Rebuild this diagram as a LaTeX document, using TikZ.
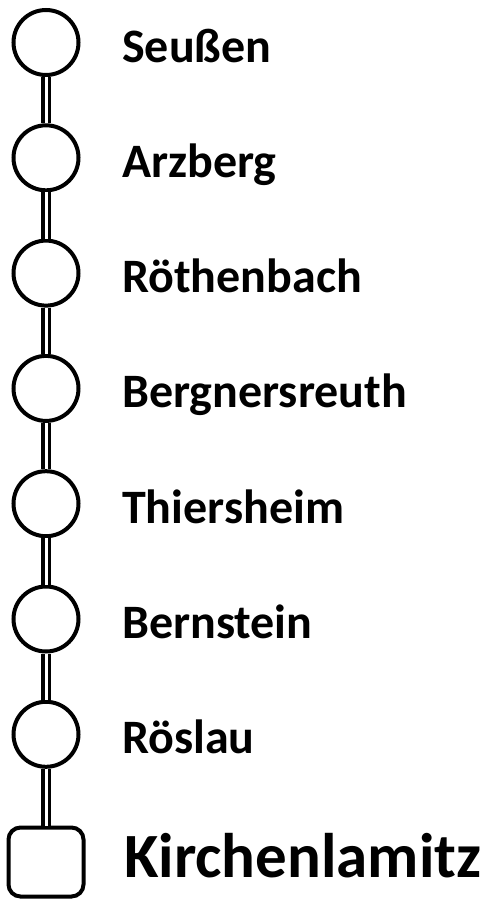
\documentclass[tikz,border=0pt]{standalone}
\usepackage{fontspec}
\setmainfont{Carlito}
\begin{document}
\begin{tikzpicture}[x=1pt,y=-1pt,
  stop/.style={draw, line width=4pt, circle, minimum size=65pt, inner sep=0pt},
  endstop/.style={draw, line width=4pt, rectangle, rounded corners=12pt, minimum width=75pt, minimum height=69pt, inner sep=0pt},
  lbl/.style={anchor=base west, inner sep=0pt, font=\bfseries\fontsize{48}{52}\selectfont},
  biglbl/.style={anchor=base west, inner sep=0pt, font=\bfseries\fontsize{63}{66}\selectfont},
  track/.style={draw, line width=3.5pt, double=white, double distance=3pt}]
\useasboundingbox (0,0) rectangle (488,900);
\node[stop] (s1) at (46,42.5) {};
\node[stop] (s2) at (46,157.8) {};
\node[stop] (s3) at (46,273.1) {};
\node[stop] (s4) at (46,388.4) {};
\node[stop] (s5) at (46,503.7) {};
\node[stop] (s6) at (46,619) {};
\node[stop] (s7) at (46,734.3) {};
\node[endstop] (s8) at (46,862) {};
\node[lbl] (l1) at (122,62) {Seußen};
\node[lbl] (l2) at (122,177.3) {Arzberg};
\node[lbl] (l3) at (122,292.6) {Röthenbach};
\node[lbl] (l4) at (122,407.9) {Bergnersreuth};
\node[lbl] (l5) at (122,523.2) {Thiersheim};
\node[lbl] (l6) at (122,638.5) {Bernstein};
\node[lbl] (l7) at (122,753.8) {Röslau};
\node[biglbl] (l8) at (124,877) {Kirchenlamitz};
\draw[track] (s1) -- (s2);
\draw[track] (s2) -- (s3);
\draw[track] (s3) -- (s4);
\draw[track] (s4) -- (s5);
\draw[track] (s5) -- (s6);
\draw[track] (s6) -- (s7);
\draw[track] (s7) -- (s8);
\end{tikzpicture}
\end{document}
